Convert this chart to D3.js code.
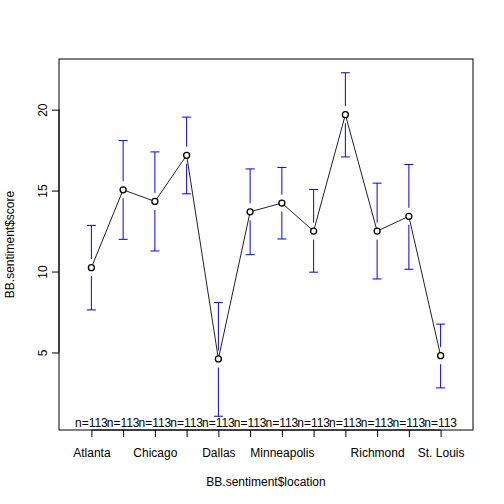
<!DOCTYPE html>
<html><head><meta charset="utf-8">
<script src="https://cdn.jsdelivr.net/npm/d3@7"></script>
<style>body{margin:0;background:#fff}text{font-family:"Liberation Sans",Arial,Helvetica,sans-serif}</style>
</head><body>
<script>
const locations = ["Atlanta","Boston","Chicago","Cleveland","Dallas","Kansas City","Minneapolis","New York","Philadelphia","Richmond","San Francisco","St. Louis"];
const means = [10.24,15.05,14.33,17.18,4.60,13.69,14.23,12.50,19.69,12.50,13.41,4.80];
const upper = [12.85,18.09,17.39,19.54,8.08,16.34,16.43,15.07,22.28,15.46,16.61,6.75];
const lower = [7.63,11.99,11.27,14.80,1.06,11.04,12.01,9.96,17.08,9.54,10.14,2.81];
const counts = [113,113,113,113,113,113,113,113,113,113,113,113];
const yTicks = [5,10,15,20];

const W=504,H=504, L=59,R=473,T=59,B=430;
const svg=d3.select("body").append("svg").attr("width",W).attr("height",H);
const x=d3.scaleLinear().domain([-0.02,13.02]).range([L,R]);
const y=d3.scaleLinear().domain([0.21,23.13]).range([B,T]);

// box
svg.append("rect").attr("x",L).attr("y",T).attr("width",R-L).attr("height",B-T)
  .attr("fill","none").attr("stroke","#000").attr("stroke-width",1);

// y axis
const yAxis=d3.axisLeft(y).tickValues(yTicks).tickSize(7).tickPadding(0).tickFormat(d3.format("d"));
const gy=svg.append("g").attr("transform",`translate(${L},0)`).call(yAxis);
gy.select(".domain").attr("d",`M${-0},${y(5)}V${y(20)}`).attr("stroke","#000");
gy.selectAll(".tick text").attr("font-size",12).attr("fill","#000")
  .attr("transform",d=>`translate(-15,0) rotate(-90)`).attr("text-anchor","middle").attr("dy","0.35em")
  .attr("x",0).attr("y",0)
  .each(function(d){ d3.select(this).attr("transform",`translate(-16,${0}) rotate(-90)`); });
gy.selectAll(".tick line").attr("stroke","#000");
gy.attr("font-family",null);

// x axis
const idx=d3.range(1,locations.length+1);
const xAxis=d3.axisBottom(x).tickValues(idx).tickSize(7).tickPadding(0).tickFormat(i=>locations[i-1]);
const gx=svg.append("g").attr("transform",`translate(0,${B})`).call(xAxis);
gx.select(".domain").attr("d",`M${x(1)},0H${x(12)}`).attr("stroke","#000");
gx.selectAll(".tick line").attr("stroke","#000");
gx.selectAll(".tick text").attr("font-size",12).attr("fill","#000").attr("y",27).attr("dy",0);
gx.attr("font-family",null);
// hide overlapping labels (R-style, gap of one 'm')
const mW = (()=>{const t=svg.append("text").attr("font-size",12).text("m");const w=t.node().getComputedTextLength();t.remove();return w;})();
let lastRight=-Infinity;
gx.selectAll(".tick text").each(function(d){
  const w=this.getComputedTextLength(); const cx=x(d);
  if(cx-w/2 < lastRight + mW){ d3.select(this).attr("display","none"); }
  else { lastRight=cx+w/2; }
});

// n labels
svg.append("g").selectAll("text").data(counts).join("text")
  .attr("x",(d,i)=>x(i+1)).attr("y",427).attr("text-anchor","middle").attr("font-size",12)
  .attr("fill","#000").text(d=>"n="+d);

// error bars
const gap=8.5, cap=4.5;
const eb=svg.append("g").attr("stroke","#0000ff").attr("stroke-width",1).attr("fill","none");
means.forEach((m,i)=>{
  const cx=x(i+1), cy=y(m), yt=y(upper[i]), yb=y(lower[i]);
  eb.append("line").attr("x1",cx).attr("x2",cx).attr("y1",yt).attr("y2",cy-gap);
  eb.append("line").attr("x1",cx).attr("x2",cx).attr("y1",cy+gap).attr("y2",yb);
  eb.append("line").attr("x1",cx-cap).attr("x2",cx+cap).attr("y1",yt).attr("y2",yt);
  eb.append("line").attr("x1",cx-cap).attr("x2",cx+cap).attr("y1",yb).attr("y2",yb);
});

// mean line
svg.append("path").datum(means)
  .attr("d",d3.line().x((d,i)=>x(i+1)).y(d=>y(d)))
  .attr("fill","none").attr("stroke","#222").attr("stroke-width",1);
svg.append("g").selectAll("circle").data(means).join("circle")
  .attr("cx",(d,i)=>x(i+1)).attr("cy",d=>y(d)).attr("r",3)
  .attr("fill","#fff").attr("stroke","#000").attr("stroke-width",1.3);

// axis titles
svg.append("text").attr("x",(L+R)/2).attr("y",486).attr("text-anchor","middle").attr("font-size",12).text("BB.sentiment$location");
svg.append("text").attr("transform",`translate(14,${(T+B)/2}) rotate(-90)`).attr("text-anchor","middle").attr("font-size",12).text("BB.sentiment$score");
</script>
</body></html>
